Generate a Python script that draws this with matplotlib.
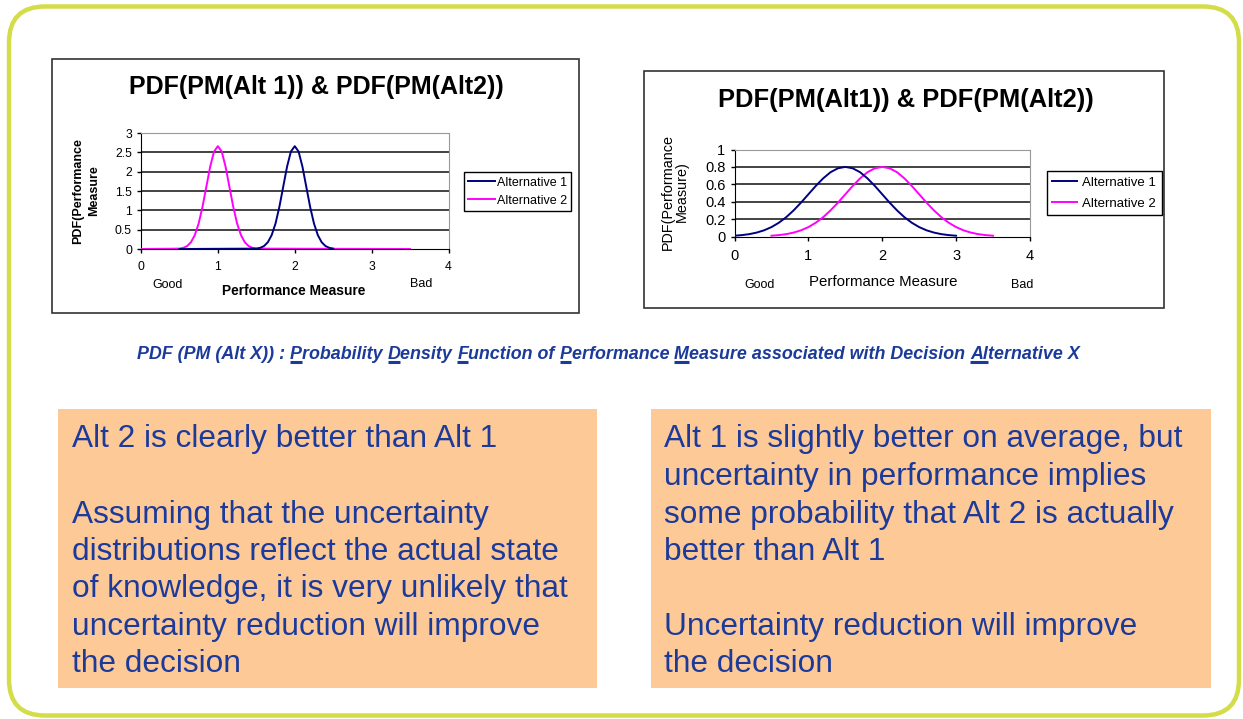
import matplotlib
matplotlib.use("Agg")
import matplotlib.pyplot as plt
from matplotlib.patches import Rectangle, FancyBboxPatch
from matplotlib.lines import Line2D

plt.rcParams['font.family'] = ['Liberation Sans', 'DejaVu Sans']

# ---- data ----
# left chart: narrow pdfs
left_alt1_x = [0.5, 1.5, 1.55, 1.6, 1.65, 1.7, 1.75, 1.8, 1.85, 1.9, 1.95, 2.0,
               2.05, 2.1, 2.15, 2.2, 2.25, 2.3, 2.35, 2.4, 2.45, 2.5]
left_alt1_y = [0, 0.01, 0.03, 0.076, 0.175, 0.36, 0.66, 1.09, 1.61, 2.13, 2.52, 2.66,
               2.52, 2.13, 1.61, 1.09, 0.66, 0.36, 0.175, 0.076, 0.03, 0.01]
left_alt2_x = [0, 0.5, 0.55, 0.6, 0.65, 0.7, 0.75, 0.8, 0.85, 0.9, 0.95, 1.0,
               1.05, 1.1, 1.15, 1.2, 1.25, 1.3, 1.35, 1.4, 1.45, 1.5, 3.5]
left_alt2_y = [0, 0.01, 0.03, 0.076, 0.175, 0.36, 0.66, 1.09, 1.61, 2.13, 2.52, 2.66,
               2.52, 2.13, 1.61, 1.09, 0.66, 0.36, 0.175, 0.076, 0.03, 0.01, 0]

# right chart: wide pdfs
right_alt1_x = [0.0, 0.1, 0.2, 0.3, 0.4, 0.5, 0.6, 0.7, 0.8, 0.9, 1.0, 1.1, 1.2, 1.3, 1.4, 1.5,
                1.6, 1.7, 1.8, 1.9, 2.0, 2.1, 2.2, 2.3, 2.4, 2.5, 2.6, 2.7, 2.8, 2.9, 3.0]
right_alt1_y = [0.009, 0.016, 0.027, 0.045, 0.071, 0.108, 0.158, 0.222, 0.300, 0.389, 0.485,
                0.581, 0.668, 0.739, 0.784, 0.800, 0.784, 0.739, 0.668, 0.581, 0.485,
                0.389, 0.300, 0.222, 0.158, 0.108, 0.071, 0.045, 0.027, 0.016, 0.009]
right_alt2_x = [0.5, 0.6, 0.7, 0.8, 0.9, 1.0, 1.1, 1.2, 1.3, 1.4, 1.5, 1.6, 1.7, 1.8, 1.9, 2.0,
                2.1, 2.2, 2.3, 2.4, 2.5, 2.6, 2.7, 2.8, 2.9, 3.0, 3.1, 3.2, 3.3, 3.4, 3.5]
right_alt2_y = [0.009, 0.016, 0.027, 0.045, 0.071, 0.108, 0.158, 0.222, 0.300, 0.389, 0.485,
                0.581, 0.668, 0.739, 0.784, 0.800, 0.784, 0.739, 0.668, 0.581, 0.485,
                0.389, 0.300, 0.222, 0.158, 0.108, 0.071, 0.045, 0.027, 0.016, 0.009]

x_ticks = [0, 1, 2, 3, 4]
left_y_ticks = [0, 0.5, 1, 1.5, 2, 2.5, 3]
left_y_labels = ['0', '0.5', '1', '1.5', '2', '2.5', '3']
right_y_ticks = [0, 0.2, 0.4, 0.6, 0.8, 1]
right_y_labels = ['0', '0.2', '0.4', '0.6', '0.8', '1']
series_names = ['Alternative 1', 'Alternative 2']

left_text = ["Alt 2 is clearly better than Alt 1",
             "",
             "Assuming that the uncertainty",
             "distributions reflect the actual state",
             "of knowledge, it is very unlikely that",
             "uncertainty reduction will improve",
             "the decision"]
right_text = ["Alt 1 is slightly better on average, but",
              "uncertainty in performance implies",
              "some probability that Alt 2 is actually",
              "better than Alt 1",
              "",
              "Uncertainty reduction will improve",
              "the decision"]
# caption pieces, True = underlined
caption = [("PDF (PM (Alt X)) : ", False), ("P", True), ("robability ", False),
           ("D", True), ("ensity ", False), ("F", True), ("unction of ", False),
           ("P", True), ("erformance ", False), ("M", True),
           ("easure associated with Decision ", False), ("Al", True), ("ternative X", False)]

W, H = 1243, 719
NAVY = '#000080'
MAGENTA = '#ff00ff'
BLUE = '#1b3a9a'


def fx(x):
    return x / W


def fy(y):
    return 1 - y / H


fig = plt.figure(figsize=(W / 100, H / 100), dpi=100)
fig.patch.set_facecolor('white')

# background layer in pixel coords
bg = fig.add_axes([0, 0, 1, 1])
bg.set_xlim(0, W)
bg.set_ylim(H, 0)
bg.axis('off')
bg.add_patch(FancyBboxPatch((9, 6.5), 1230, 709, boxstyle="round,pad=0,rounding_size=36",
                            fill=False, edgecolor='#d4dc48', lw=3.2))
bg.add_patch(Rectangle((52, 59), 527, 254, facecolor='white', edgecolor='#333333', lw=1.2))
bg.add_patch(Rectangle((644, 71), 520, 237, facecolor='white', edgecolor='#333333', lw=1.2))
bg.add_patch(Rectangle((58, 409), 539, 279, facecolor='#fdc997', edgecolor='none'))
bg.add_patch(Rectangle((651, 409), 560, 279, facecolor='#fdc997', edgecolor='none'))


def setup_chart(box, xs, ys, yticks, ylabels, tick_size, leg_anchor, leg_opts):
    l, t, r, b = box
    ax = fig.add_axes([fx(l), fy(b), (r - l) / W, (b - t) / H])
    ax.set_facecolor('white')
    ax.plot(xs[1], ys[1], color=MAGENTA, lw=1.4, label=series_names[1], zorder=3)
    ax.plot(xs[0], ys[0], color=NAVY, lw=1.4, label=series_names[0], zorder=4)
    for v in yticks[1:-1]:
        ax.axhline(v, color='#222222', lw=1.2, zorder=1)
    ax.set_xlim(0, 4)
    ax.set_ylim(0, yticks[-1])
    ax.set_xticks(x_ticks)
    ax.set_xticklabels([str(v) for v in x_ticks])
    ax.set_yticks(yticks)
    ax.set_yticklabels(ylabels)
    ax.tick_params(direction='out', length=3, width=1, labelsize=tick_size)
    ax.tick_params(axis='x', pad=6)
    ax.tick_params(axis='y', pad=3.5)
    ax.spines['top'].set_color('#999999')
    ax.spines['right'].set_color('#999999')
    ax.spines['left'].set_color('black')
    ax.spines['bottom'].set_color('black')
    handles, labels = ax.get_legend_handles_labels()
    leg = ax.legend(handles[::-1], labels[::-1], loc='center left',
                    bbox_to_anchor=leg_anchor, bbox_transform=fig.transFigure,
                    fancybox=False, edgecolor='black', borderaxespad=0, framealpha=1,
                    **leg_opts)
    leg.get_frame().set_linewidth(1.0)
    return ax


ax1 = setup_chart((141, 133, 448.5, 249), (left_alt1_x, left_alt2_x), (left_alt1_y, left_alt2_y),
                  left_y_ticks, left_y_labels, 8.7, (fx(464), fy(191.5)),
                  dict(fontsize=9, handlelength=2.1, handletextpad=0.2, borderpad=0.34,
                       labelspacing=0.48))
ax2 = setup_chart((734.5, 149.5, 1030, 236.5), (right_alt1_x, right_alt2_x), (right_alt1_y, right_alt2_y),
                  right_y_ticks, right_y_labels, 10.5, (fx(1047), fy(193)),
                  dict(fontsize=9.5, handlelength=1.9, handletextpad=0.38, borderpad=0.41,
                       labelspacing=0.67))

# chart titles and axis texts
fig.text(fx(316), fy(87), "PDF(PM(Alt 1)) & PDF(PM(Alt2))", ha='center', va='center',
         fontsize=18, fontweight='bold')
fig.text(fx(906), fy(100), "PDF(PM(Alt1)) & PDF(PM(Alt2))", ha='center', va='center',
         fontsize=18.4, fontweight='bold')
fig.text(fx(86), fy(191), "PDF(Performance\nMeasure", ha='center', va='center', rotation=90,
         fontsize=9, fontweight='bold', linespacing=1.4)
fig.text(fx(675), fy(192), "PDF(Performance\nMeasure)", ha='center', va='center', rotation=90,
         fontsize=10.4, linespacing=1.0)
fig.text(fx(294), fy(291), "Performance Measure", ha='center', va='center',
         fontsize=9.9, fontweight='bold')
fig.text(fx(883), fy(282), "Performance Measure", ha='center', va='center', fontsize=10.8)
fig.text(fx(168), fy(285), "Good", ha='center', va='center', fontsize=9)
fig.text(fx(421), fy(284), "Bad", ha='center', va='center', fontsize=9)
fig.text(fx(760), fy(285), "Good", ha='center', va='center', fontsize=9)
fig.text(fx(1022), fy(285), "Bad", ha='center', va='center', fontsize=9)

# body text in the peach boxes
baselines = [447.5, 485, 522.5, 560, 597, 634.5, 672]
for i, line in enumerate(left_text):
    fig.text(fx(72), fy(baselines[i]), line, ha='left', va='baseline', fontsize=22.8, color=BLUE)
for i, line in enumerate(right_text):
    fig.text(fx(664), fy(baselines[i]), line, ha='left', va='baseline', fontsize=22.8, color=BLUE)

# caption with underlined initials
renderer = fig.canvas.get_renderer()
cx = 137
cap_base = 359
for piece, under in caption:
    t = fig.text(fx(cx), fy(cap_base), piece, ha='left', va='baseline', fontsize=12.85,
                 fontweight='bold', fontstyle='italic', color=BLUE)
    bb = t.get_window_extent(renderer)
    if under:
        bg.add_line(Line2D([cx, bb.x1], [cap_base + 3, cap_base + 3],
                           color=BLUE, lw=2.2, solid_capstyle='butt'))
    cx = bb.x1

fig.savefig("out.png", dpi=100)
